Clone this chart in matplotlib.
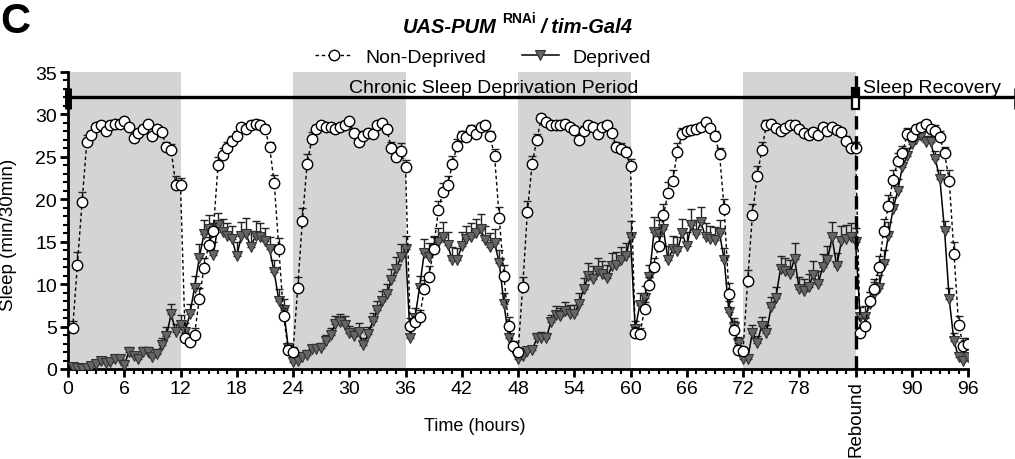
import numpy as np
import matplotlib.pyplot as plt
from matplotlib.patches import Rectangle

plt.rcParams['font.family'] = ['Liberation Sans', 'DejaVu Sans']

# 30-min bins, 0.5 h .. 96 h
hours = np.arange(0.5, 96.5, 0.5)

# Non-Deprived (mean sleep, min/30min), one list per 12 h block
nd_0_12 = [4.8, 12.2, 19.7, 26.7, 27.6, 28.5, 28.7, 28.0, 28.8, 28.9, 28.9, 29.2,
           28.5, 27.2, 27.8, 28.3, 28.9, 27.4, 28.3, 27.9, 26.2, 25.8, 21.7, 21.7]
nd_12_24 = [3.7, 3.2, 4.0, 8.3, 11.9, 14.6, 16.3, 24.0, 25.2, 26.0, 26.9, 27.5,
            28.5, 28.3, 28.8, 28.9, 28.8, 28.3, 26.2, 21.9, 14.1, 6.2, 2.2, 2.0]
nd_24_36 = [9.6, 17.5, 24.1, 27.1, 28.3, 28.7, 28.5, 28.5, 28.3, 28.5, 28.8, 29.2,
            27.8, 26.8, 27.5, 27.8, 27.7, 28.7, 29.0, 28.3, 26.0, 25.0, 25.7, 23.8]
nd_36_48 = [5.1, 5.5, 6.1, 9.4, 10.9, 14.2, 18.7, 20.9, 21.7, 24.2, 26.3, 27.4,
            27.3, 28.2, 27.7, 28.5, 28.8, 27.5, 25.1, 17.8, 11.0, 5.1, 2.7, 2.0]
nd_48_60 = [9.7, 18.5, 24.1, 27.0, 29.6, 29.1, 28.7, 28.7, 28.8, 28.9, 28.5, 28.2,
            27.0, 28.1, 28.8, 28.5, 27.7, 28.5, 28.8, 27.8, 26.2, 25.9, 25.6, 23.9]
nd_60_72 = [4.3, 4.1, 7.1, 9.9, 12.0, 14.5, 18.1, 20.7, 22.2, 25.6, 27.7, 28.0,
            28.2, 28.3, 28.5, 29.1, 28.4, 27.5, 25.3, 18.8, 8.8, 4.6, 2.2, 2.1]
nd_72_84 = [10.4, 18.1, 22.7, 25.8, 28.8, 28.9, 28.4, 28.0, 28.4, 28.7, 28.8, 28.3,
            27.8, 27.6, 27.9, 27.6, 28.5, 28.1, 28.5, 28.2, 27.9, 26.9, 26.1, 26.1]
nd_84_96 = [4.3, 5.1, 8.0, 9.4, 12.0, 16.3, 19.2, 22.3, 24.5, 25.4, 27.7, 27.5,
            28.3, 28.5, 28.9, 28.3, 28.1, 27.3, 25.4, 22.2, 13.6, 5.2, 2.7, 2.9]

# Deprived
dp_0_12 = [0.2, 0.1, 0.0, 0.1, 0.3, 0.6, 0.9, 0.7, 0.8, 1.2, 1.2, 0.5,
           2.0, 1.5, 1.2, 2.0, 2.0, 1.4, 1.8, 2.8, 3.9, 6.5, 4.4, 5.2]
dp_12_24 = [4.4, 6.5, 9.6, 13.1, 15.9, 16.5, 13.4, 17.0, 16.1, 15.7, 15.3, 13.3,
            15.7, 15.9, 14.4, 15.7, 15.5, 15.1, 14.1, 11.4, 8.0, 7.0, 2.5, 0.8]
dp_24_36 = [0.9, 1.4, 1.7, 2.3, 2.4, 2.5, 3.3, 4.0, 5.3, 5.5, 5.2, 4.2,
            3.9, 4.4, 2.8, 4.1, 5.6, 6.9, 8.0, 8.8, 10.5, 11.8, 13.2, 14.2]
dp_36_48 = [3.6, 6.0, 9.6, 13.7, 13.2, 14.2, 15.0, 15.6, 14.6, 12.8, 12.8, 14.5,
            15.3, 15.5, 16.0, 16.5, 15.2, 14.4, 14.9, 12.5, 7.7, 3.7, 2.3, 1.2]
dp_48_60 = [1.5, 2.1, 2.2, 3.6, 3.7, 3.6, 5.5, 6.4, 6.2, 6.8, 6.5, 6.5,
            7.7, 9.4, 11.0, 10.6, 11.5, 11.2, 10.7, 12.1, 12.2, 12.8, 13.3, 15.6]
dp_60_72 = [4.7, 7.6, 8.4, 10.8, 16.1, 15.9, 16.5, 12.9, 14.1, 13.9, 16.0, 14.5,
            17.0, 15.9, 17.3, 15.6, 15.3, 15.2, 16.0, 12.8, 6.7, 5.0, 3.1, 1.2]
dp_72_84 = [1.2, 4.3, 3.1, 5.1, 4.3, 7.3, 8.4, 11.8, 11.6, 11.2, 13.0, 9.4,
            9.2, 9.7, 11.1, 10.0, 12.0, 12.8, 15.5, 12.1, 15.1, 15.3, 15.6, 15.0]
dp_84_96 = [6.1, 6.1, 7.7, 8.8, 9.6, 12.4, 15.7, 18.8, 21.0, 23.8, 25.1, 26.5,
            27.1, 27.4, 26.8, 26.7, 24.8, 22.4, 16.3, 8.2, 3.3, 1.4, 1.0, 1.4]

# SEM (only the upper bar is drawn)
nd_err = [0.9, 1.6, 1.2, 0.9, 0.5, 0.5, 0.4, 0.4, 0.3, 0.3, 0.3, 0.3, 0.4, 0.5, 0.5, 0.4, 0.3, 0.5, 0.4, 0.4, 0.6, 0.7, 1.0, 0.8,
          0.6, 0.6, 0.8, 1.2, 1.2, 1.0, 0.9, 1.0, 0.9, 0.7, 0.6, 0.5, 0.4, 0.5, 0.4, 0.4, 0.4, 0.5, 0.6, 1.0, 1.3, 1.0, 0.6, 0.6,
          1.3, 1.5, 1.2, 0.8, 0.5, 0.4, 0.4, 0.4, 0.4, 0.4, 0.4, 0.3, 0.5, 0.6, 0.5, 0.5, 0.5, 0.4, 0.4, 0.5, 0.7, 0.8, 0.9, 0.8,
          0.9, 0.8, 0.9, 1.1, 1.2, 1.3, 1.1, 1.0, 1.1, 0.9, 0.8, 0.6, 0.6, 0.5, 0.5, 0.4, 0.4, 0.6, 0.8, 1.3, 1.3, 1.0, 0.6, 0.5,
          1.2, 1.3, 1.0, 0.7, 0.4, 0.4, 0.4, 0.4, 0.4, 0.4, 0.4, 0.4, 0.5, 0.5, 0.4, 0.4, 0.5, 0.4, 0.4, 0.5, 0.6, 0.7, 0.6, 0.8,
          0.6, 0.7, 0.8, 1.0, 1.1, 1.2, 1.3, 1.3, 1.2, 1.0, 0.7, 0.5, 0.4, 0.4, 0.4, 0.3, 0.4, 0.5, 0.7, 1.2, 1.3, 1.0, 0.6, 0.5,
          1.3, 1.4, 1.2, 1.0, 0.5, 0.4, 0.4, 0.4, 0.4, 0.4, 0.4, 0.4, 0.5, 0.5, 0.5, 0.5, 0.4, 0.4, 0.4, 0.4, 0.5, 0.6, 0.7, 0.6,
          0.7, 0.9, 1.1, 1.2, 1.3, 1.4, 1.3, 1.2, 1.0, 0.9, 0.7, 0.6, 0.5, 0.5, 0.4, 0.5, 0.6, 0.7, 0.8, 1.2, 1.4, 1.1, 0.9, 0.8]
dp_err = [0.2, 0.1, 0.1, 0.2, 0.2, 0.3, 0.4, 0.3, 0.4, 0.5, 0.5, 0.3, 0.6, 0.5, 0.4, 0.6, 0.6, 0.5, 0.6, 0.8, 1.0, 1.2, 0.9, 1.2,
          1.0, 1.2, 1.4, 1.6, 1.7, 1.6, 1.6, 1.4, 1.6, 1.5, 1.6, 1.7, 1.6, 1.9, 1.9, 1.7, 1.7, 1.5, 1.4, 1.5, 1.4, 1.2, 0.6, 0.4,
          0.3, 0.4, 0.5, 0.5, 0.5, 0.6, 0.7, 0.8, 1.0, 1.0, 1.0, 0.9, 0.9, 1.0, 0.8, 0.9, 1.0, 1.1, 1.2, 1.2, 1.3, 1.4, 1.5, 1.5,
          1.0, 1.2, 1.4, 1.6, 1.6, 1.5, 1.6, 1.7, 1.6, 1.6, 1.5, 1.6, 1.6, 1.7, 1.7, 1.8, 1.7, 1.6, 1.6, 1.5, 1.3, 1.0, 0.6, 0.4,
          0.4, 0.5, 0.5, 0.7, 0.7, 0.7, 0.9, 1.0, 1.0, 1.1, 1.1, 1.1, 1.2, 1.3, 1.5, 1.5, 1.6, 1.5, 1.5, 1.6, 1.6, 1.6, 1.6, 1.8,
          1.0, 1.3, 1.4, 1.5, 1.8, 1.7, 1.7, 1.6, 1.6, 1.6, 1.7, 1.6, 1.8, 1.7, 1.8, 1.6, 1.6, 1.5, 1.6, 1.5, 1.3, 1.0, 0.7, 0.4,
          0.4, 0.9, 0.8, 1.0, 0.9, 1.2, 1.3, 1.5, 1.5, 1.6, 1.8, 1.4, 1.4, 1.5, 1.6, 1.5, 1.6, 1.7, 1.8, 1.6, 1.7, 1.7, 1.6, 1.6,
          1.2, 1.3, 1.4, 1.5, 1.5, 1.6, 1.6, 1.5, 1.4, 1.2, 1.0, 0.9, 0.8, 0.7, 0.7, 0.8, 0.9, 1.0, 1.2, 1.3, 1.0, 0.6, 0.4, 0.4]

dark_starts = [0, 24, 48, 72]
xtick_vals = list(range(0, 97, 6))
xtick_labels = [str(v) if v != 84 else 'Rebound' for v in xtick_vals]

non_dep = np.concatenate([nd_0_12, nd_12_24, nd_24_36, nd_36_48, nd_48_60, nd_60_72, nd_72_84, nd_84_96])
dep = np.concatenate([dp_0_12, dp_12_24, dp_24_36, dp_36_48, dp_48_60, dp_60_72, dp_72_84, dp_84_96])
nd_err = np.array(nd_err)
dp_err = np.array(dp_err)

W, H = 1015, 460
fig = plt.figure(figsize=(W / 100, H / 100), dpi=100)
ax = fig.add_axes([68 / W, 90 / H, 900 / W, 297 / H])
ax.set_xlim(0, 96)
ax.set_ylim(0, 35)

# dark phases
for s in dark_starts:
    ax.axvspan(s, s + 12, color='#d4d4d4', lw=0, zorder=0)

# deprived
ax.errorbar(hours, dep, yerr=[np.zeros_like(dp_err), dp_err], fmt='none',
            ecolor='#222222', elinewidth=1, capsize=3.2, capthick=1, zorder=2)
ax.plot(hours, dep, color='black', lw=1.1, marker='v', markersize=7,
        markerfacecolor='#666666', markeredgecolor='#333333', markeredgewidth=0.8,
        zorder=3, label='Deprived')

# non-deprived
ax.errorbar(hours, non_dep, yerr=[np.zeros_like(nd_err), nd_err], fmt='none',
            ecolor='#222222', elinewidth=1, capsize=3.2, capthick=1, zorder=4)
ax.plot(hours, non_dep, color='black', lw=1, ls=(0, (2.5, 2)), marker='o', markersize=7.5,
        markerfacecolor='white', markeredgecolor='black', markeredgewidth=1,
        zorder=5, label='Non-Deprived')

# rebound line
ax.plot([84, 84], [0, 35], color='black', lw=2.4, ls=(0, (4, 2)), zorder=6, clip_on=False)

# period bars
ax.plot([0, 84], [32, 32], color='black', lw=2.4, zorder=6, clip_on=False, solid_capstyle='butt')
ax.plot([84, 101], [32, 32], color='black', lw=2.4, zorder=6, clip_on=False, solid_capstyle='butt')
ax.plot([0, 0], [30.6, 33.1], color='black', lw=5, zorder=7, clip_on=False, solid_capstyle='butt')
ax.plot([101, 101], [30.6, 33.1], color='black', lw=1.8, zorder=7, clip_on=False, solid_capstyle='butt')
ax.add_patch(Rectangle((83.6, 30.6), 0.8, 1.4, facecolor='white', edgecolor='black', lw=1.6,
                       zorder=8, clip_on=False))
ax.add_patch(Rectangle((83.6, 32.0), 0.8, 1.1, facecolor='black', edgecolor='black', lw=1.6,
                       zorder=8, clip_on=False))
ax.text(45.4, 33.2, 'Chronic Sleep Deprivation Period', ha='center', va='center', fontsize=14, zorder=9)
ax.text(92.2, 33.2, 'Sleep Recovery', ha='center', va='center', fontsize=14, zorder=9)

# axes styling
for side in ['top', 'right']:
    ax.spines[side].set_visible(False)
for side in ['left', 'bottom']:
    ax.spines[side].set_linewidth(2)
ax.set_xticks(xtick_vals)
ax.set_xticklabels(xtick_labels)
ax.set_xticks(range(0, 97), minor=True)
ax.set_yticks(range(0, 36, 5))
ax.set_yticks(range(0, 36), minor=True)
ax.tick_params(which='major', direction='out', length=6, width=2, labelsize=14, pad=2)
ax.tick_params(which='minor', direction='out', length=3.5, width=1.5)
for lab in ax.get_xticklabels():
    if lab.get_text() == 'Rebound':
        lab.set_rotation(90)
        lab.set_va('top')
        lab.set_fontsize(13.5)

ax.set_ylabel('Sleep (min/30min)', fontsize=13.5)
ax.yaxis.set_label_coords(-0.057, 0.455)
ax.set_xlabel('Time (hours)', fontsize=13)
ax.xaxis.set_label_coords((475 - 68) / 900, (370 - 418) / 297)

# title pieces
fig.text(497 / W, 1 - 33 / H, 'UAS-PUM', ha='right', va='baseline', fontsize=14.5,
         fontweight='bold', style='italic')
fig.text(502 / W, 1 - 23 / H, 'RNAi', ha='left', va='baseline', fontsize=10, fontweight='bold')
fig.text(541 / W, 1 - 33 / H, '/ tim-Gal4', ha='left', va='baseline', fontsize=14.5,
         fontweight='bold', style='italic')
fig.text(0.5 / W, 1 - 33 / H, 'C', ha='left', va='baseline', fontsize=30, fontweight='bold')

handles, labels = ax.get_legend_handles_labels()
fig.legend(handles[::-1], labels[::-1], loc='center', bbox_to_anchor=(483 / W, 1 - 58 / H),
           ncol=2, frameon=False, fontsize=14, handlelength=1.9, columnspacing=1.8, handletextpad=0.7)

fig.savefig('out.png', dpi=100)
